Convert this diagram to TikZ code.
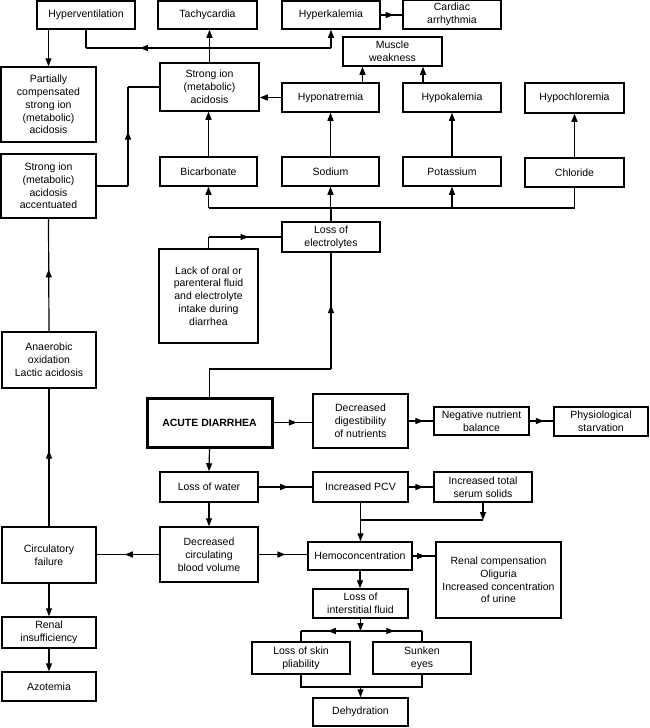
\documentclass[tikz,border=0pt]{standalone}
\usepackage{fontspec}
\setmainfont{Liberation Sans}
\usetikzlibrary{arrows.meta,decorations.markings}
\tikzset{
  tipshape/.tip={Triangle[length=8pt,width=6pt]},
  box/.style={draw, line width=1.5pt, inner sep=1pt, align=center, font=\fontsize{10.5}{12.8}\selectfont},
  conn/.style={line width=1.2pt},
  arr/.style={conn, -{tipshape}},
  marrow/.style={conn, postaction={decorate}, decoration={markings, mark=at position #1 with {\arrow{tipshape}}}},
  rmarrow/.style={conn, postaction={decorate}, decoration={markings, mark=at position #1 with {\arrowreversed{tipshape}}}}
}
\begin{document}
\begin{tikzpicture}[x=1pt,y=1pt]
\useasboundingbox (0,0) rectangle (650,-728);
% top row
\node[box, minimum width=98, minimum height=28] (hypervent) at (86,-15) {Hyperventilation};
\node[box, minimum width=99, minimum height=28] (tachy) at (207.5,-15) {Tachycardia};
\node[box, minimum width=98, minimum height=28] (hyperk) at (331,-15) {Hyperkalemia};
\node[box, minimum width=98, minimum height=29] (cardiac) at (452,-14.5) {Cardiac\\arrhythmia};
\node[box, minimum width=99, minimum height=29] (muscle) at (392.5,-51.5) {Muscle\\weakness};
\node[box, minimum width=97, minimum height=29] (hypona) at (330.5,-97.5) {Hyponatremia};
\node[box, minimum width=98, minimum height=29] (hypok) at (452,-97.5) {Hypokalemia};
\node[box, minimum width=99, minimum height=30] (hypochl) at (574.5,-98) {Hypochloremia};
\node[box, minimum width=99, minimum height=48] (sia) at (209.5,-87) {Strong ion\\(metabolic)\\acidosis};
\node[box, minimum width=95, minimum height=75] (partial) at (48.5,-104.5) {Partially\\compensated\\strong ion\\(metabolic)\\acidosis};
\node[box, minimum width=95, minimum height=64] (siaacc) at (48.5,-186) {Strong ion\\(metabolic)\\acidosis\\accentuated};
\node[box, minimum width=97, minimum height=29] (bicarb) at (208.5,-171.5) {Bicarbonate};
\node[box, minimum width=97, minimum height=29] (sodium) at (330.5,-171.5) {Sodium};
\node[box, minimum width=98, minimum height=29] (potass) at (452,-171.5) {Potassium};
\node[box, minimum width=99, minimum height=29] (chloride) at (574.5,-172.5) {Chloride};
\node[box, minimum width=98, minimum height=30] (lossel) at (331,-237) {Loss of\\electrolytes};
\node[box, minimum width=99, minimum height=94] (lack) at (208.5,-296) {Lack of oral or\\parenteral fluid\\and electrolyte\\intake during\\diarrhea};
\node[box, line width=3pt, minimum width=125, minimum height=49, font=\fontsize{10.5}{12.8}\selectfont\bfseries] (acute) at (209.5,-422.5) {ACUTE DIARRHEA};
\node[box, minimum width=95, minimum height=54] (decdig) at (360.5,-421) {Decreased\\digestibility\\of nutrients};
\node[box, minimum width=95, minimum height=28] (negnut) at (481.5,-421) {Negative nutrient\\balance};
\node[box, minimum width=94, minimum height=29] (physio) at (601,-421.5) {Physiological\\starvation};
\node[box, minimum width=94, minimum height=56] (anaer) at (49,-360) {Anaerobic\\oxidation\\Lactic acidosis};
\node[box, minimum width=98, minimum height=30] (losswater) at (209,-487) {Loss of water};
\node[box, minimum width=98, minimum height=55] (deccirc) at (209,-554.5) {Decreased\\circulating\\blood volume};
\node[box, minimum width=94, minimum height=56] (circ) at (49,-555) {Circulatory\\failure};
\node[box, minimum width=94, minimum height=31] (renal) at (49,-632.5) {Renal\\insufficiency};
\node[box, minimum width=94, minimum height=29] (azot) at (49,-686.5) {Azotemia};
\node[box, minimum width=95, minimum height=30] (pcv) at (360.5,-487) {Increased PCV};
\node[box, minimum width=98, minimum height=30] (serum) at (483,-487) {Increased total\\serum solids};
\node[box, minimum width=104, minimum height=28] (hemo) at (360,-556) {Hemoconcentration};
\node[box, minimum width=125, minimum height=76] (renalcomp) at (498.5,-580) {Renal compensation\\Oliguria\\Increased concentration\\of urine};
\node[box, minimum width=95, minimum height=29] (lossint) at (360.5,-603.5) {Loss of\\interstitial fluid};
\node[box, minimum width=98, minimum height=32] (skin) at (301,-658) {Loss of skin\\pliability};
\node[box, minimum width=98, minimum height=32] (sunken) at (422,-658) {Sunken\\eyes};
\node[box, minimum width=95, minimum height=28] (dehyd) at (360.5,-712) {Dehydration};
% helper coordinates
\coordinate (yA) at (0,-48);
\coordinate (xK1) at (128,0);
\coordinate (bus) at (0,-208);
\coordinate (yL) at (0,-237);
\coordinate (yB) at (0,-369);
\coordinate (yS) at (0,-520);
\coordinate (ySplit) at (0,-631);
\coordinate (yJoin) at (0,-687);
% top connectors
\draw[arr] (partial.north |- hypervent.south) -- (partial.north);
\draw[conn] (hypervent.south) -- (hypervent.south |- yA);
\draw[rmarrow=0.22] (hypervent.south |- yA) -- (hyperk.south |- yA);
\draw[arr] (hyperk.south |- yA) -- (hyperk.south);
\draw[arr] (sia.north) -- (sia.north |- tachy.south);
\draw[marrow=0.6] (hyperk.east) -- (cardiac.west |- hyperk.east);
\draw[arr] ([xshift=32]hypona.north) -- ([xshift=32]hypona.north |- muscle.south);
\draw[arr] ([xshift=-29]hypok.north) -- ([xshift=-29]hypok.north |- muscle.south);
\draw[arr] (hypona.west) -- (sia.east |- hypona.west);
\draw[arr] (bicarb.north) -- (bicarb.north |- sia.south);
\draw[arr] (sodium.north) -- (sodium.north |- hypona.south);
\draw[arr] (potass.north) -- (potass.north |- hypok.south);
\draw[arr] (chloride.north) -- (chloride.north |- hypochl.south);
% bus
\draw[conn] (chloride.south) -- (chloride.south |- bus) -- (bicarb.south |- bus);
\draw[arr] (bicarb.south |- bus) -- (bicarb.south);
\draw[arr] (sodium.south |- bus) -- (sodium.south);
\draw[arr] (potass.south |- bus) -- (potass.south);
\draw[conn] (lossel.north) -- (lossel.north |- bus);
% accentuated -> sia
\draw[conn] (siaacc.east) -- (xK1 |- siaacc.east);
\draw[marrow=0.55] (xK1 |- siaacc.east) -- (xK1 |- sia.west);
\draw[conn] (xK1 |- sia.west) -- (sia.west);
% lack -> loss of electrolytes
\draw[conn] (lack.north) -- (lack.north |- yL);
\draw[marrow=0.55] (lack.north |- yL) -- (lossel.west);
% acute -> loss of electrolytes
\draw[conn] (acute.north) -- (acute.north |- yB) -- (lossel.south |- yB);
\draw[marrow=0.55] (lossel.south |- yB) -- (lossel.south);
% acute right chain
\draw[marrow=0.6] (acute.east) -- (decdig.west |- acute.east);
\draw[marrow=0.6] (decdig.east) -- (negnut.west);
\draw[marrow=0.6] (negnut.east) -- (physio.west |- negnut.east);
% acute down
\draw[arr] (acute.south) -- (losswater.north);
\draw[arr] (losswater.south) -- (deccirc.north);
\draw[marrow=0.55] (losswater.east) -- (pcv.west);
\draw[marrow=0.6] (pcv.east) -- (serum.west);
\draw[marrow=0.55] (deccirc.west) -- (circ.east |- deccirc.west);
\draw[marrow=0.55] (deccirc.east) -- (hemo.west |- deccirc.east);
\draw[marrow=0.55] (hemo.east) -- (renalcomp.west |- hemo.east);
\draw[arr] (pcv.south) -- (pcv.south |- hemo.north);
\draw[arr] (serum.south) -- (serum.south |- yS);
\draw[conn] (serum.south |- yS) -- (pcv.south |- yS);
\draw[arr] (hemo.south) -- (hemo.south |- lossint.north);
% split to skin / sunken
\draw[arr] (lossint.south) -- (lossint.south |- ySplit);
\draw[marrow=0.55] (lossint.south |- ySplit) -- (skin.north |- ySplit);
\draw[conn] (skin.north |- ySplit) -- (skin.north);
\draw[marrow=0.55] (lossint.south |- ySplit) -- (sunken.north |- ySplit);
\draw[conn] (sunken.north |- ySplit) -- (sunken.north);
% join to dehydration
\draw[conn] (skin.south) -- (skin.south |- yJoin) -- (sunken.south |- yJoin) -- (sunken.south);
\draw[arr] (dehyd.north |- yJoin) -- (dehyd.north);
% left column
\draw[marrow=0.55] (circ.north) -- (anaer.south);
\draw[marrow=0.55] (anaer.north) -- (siaacc.south);
\draw[arr] (circ.south) -- (renal.north);
\draw[arr] (renal.south) -- (azot.north);
\end{tikzpicture}
\end{document}
